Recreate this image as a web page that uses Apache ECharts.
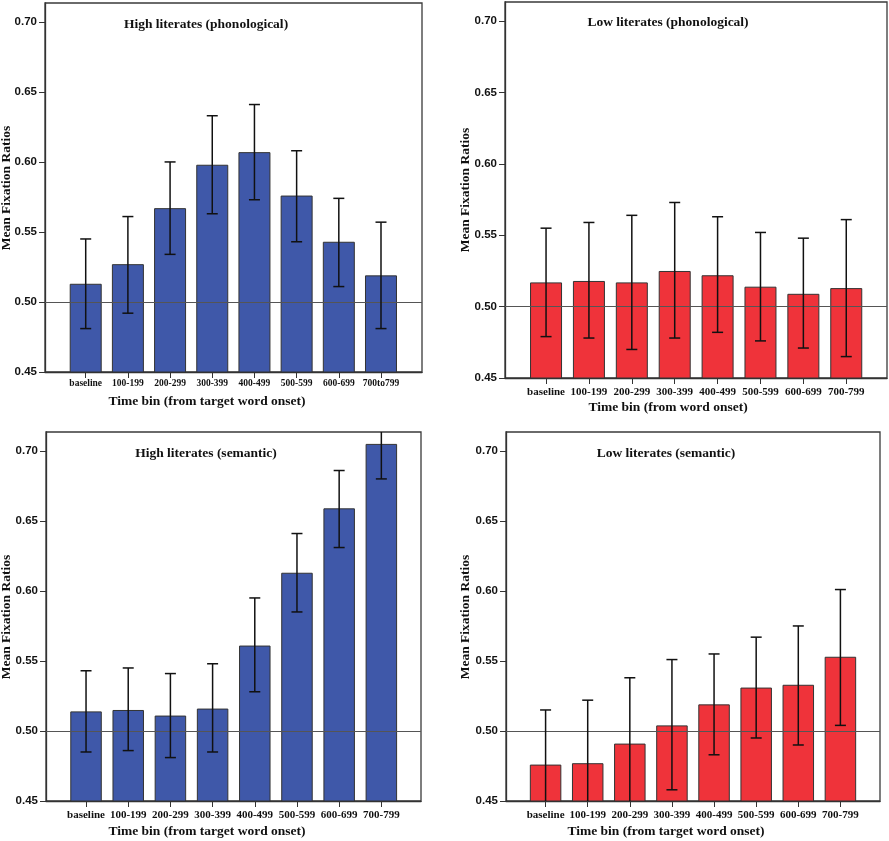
<!DOCTYPE html>
<html>
<head>
<meta charset="utf-8">
<script src="https://cdn.jsdelivr.net/npm/echarts@6/dist/echarts.min.js"></script>
<style>
html,body{margin:0;padding:0;background:#fff;}
#chart{width:889px;height:841px;}
</style>
</head>
<body>
<div id="chart"></div>
<script>
// ---------- data ----------
const catsHighPhon = ['baseline','100-199','200-299','300-399','400-499','500-599','600-699','700to799'];
const cats = ['baseline','100-199','200-299','300-399','400-499','500-599','600-699','700-799'];
const yTicks = [0.45, 0.50, 0.55, 0.60, 0.65, 0.70];

const hiPhonMean = [0.513,0.527,0.567,0.598,0.607,0.576,0.543,0.519];
const hiPhonLo   = [0.481,0.492,0.534,0.563,0.573,0.543,0.511,0.481];
const hiPhonHi   = [0.545,0.561,0.600,0.633,0.641,0.608,0.574,0.557];

const loPhonMean = [0.517,0.518,0.517,0.525,0.522,0.514,0.509,0.513];
const loPhonLo   = [0.479,0.478,0.470,0.478,0.482,0.476,0.471,0.465];
const loPhonHi   = [0.555,0.559,0.564,0.573,0.563,0.552,0.548,0.561];

const hiSemMean = [0.514,0.515,0.511,0.516,0.561,0.613,0.659,0.705];
const hiSemLo   = [0.485,0.486,0.481,0.485,0.528,0.585,0.631,0.680];
const hiSemHi   = [0.543,0.545,0.541,0.548,0.595,0.641,0.686,0.730];

const loSemMean = [0.476,0.477,0.491,0.504,0.519,0.531,0.533,0.553];
const loSemLo   = [0.438,0.433,0.445,0.458,0.483,0.495,0.490,0.504];
const loSemHi   = [0.515,0.522,0.538,0.551,0.555,0.567,0.575,0.601];

const chanceLevel = 0.5;

// ---------- layout ----------
const BLUE = '#3F58A9', RED = '#EF333A';
const SERIF = '"Liberation Serif","Times New Roman",serif';
const SANS = '"Liberation Sans",Arial,sans-serif';

const panels = [
  {grid:{left:45, top:3, width:377, height:369}, cats:catsHighPhon, mean:hiPhonMean, lo:hiPhonLo, hi:hiPhonHi, color:BLUE,
   xfs:9.5, xmargin:7, xmin:-0.965, xmax:7.972, barW:32,
   title:'High literates (phonological)', tx:206, ty:25,
   xname:'Time bin (from target word onset)', nx:207, ny:402, yx:7, yy:188},
  {grid:{left:505, top:2, width:382, height:376}, cats:cats, mean:loPhonMean, lo:loPhonLo, hi:loPhonHi, color:RED,
   xfs:11, xmargin:9, xmin:-0.957, xmax:7.95, barW:32,
   title:'Low literates (phonological)', tx:668, ty:23,
   xname:'Time bin (from word onset)', nx:668, ny:408, yx:466, yy:190},
  {grid:{left:46, top:432, width:375, height:369}, cats:cats, mean:hiSemMean, lo:hiSemLo, hi:hiSemHi, color:BLUE,
   xfs:11, xmargin:9, xmin:-0.949, xmax:7.94, barW:31.5,
   title:'High literates (semantic)', tx:206, ty:454,
   xname:'Time bin (from target word onset)', nx:207, ny:832, yx:7, yy:617},
  {grid:{left:506, top:432, width:374, height:369}, cats:cats, mean:loSemMean, lo:loSemLo, hi:loSemHi, color:RED,
   xfs:11, xmargin:9, xmin:-0.94, xmax:7.94, barW:31.5,
   title:'Low literates (semantic)', tx:666, ty:454,
   xname:'Time bin (from target word onset)', nx:666, ny:832, yx:466, yy:617}
];

const grids = [], xAxes = [], yAxes = [], series = [], graphics = [];
const idxs = [0,1,2,3,4,5,6,7];

panels.forEach((p, i) => {
  grids.push(Object.assign({show:true, borderColor:'#3a3a3a', borderWidth:1.3, backgroundColor:'#fff'}, p.grid));
  xAxes.push({
    type:'value', gridIndex:i, min:p.xmin, max:p.xmax,
    axisLine:{show:true, onZero:false, lineStyle:{color:'#333', width:1.3}},
    axisTick:{show:true, length:6, customValues:idxs, lineStyle:{color:'#333'}},
    axisLabel:{show:true, customValues:idxs, margin:p.xmargin,
      formatter:(v)=>p.cats[Math.round(v)], fontFamily:SERIF, fontWeight:'bold', fontSize:p.xfs, color:'#111'},
    splitLine:{show:false}
  });
  yAxes.push({
    type:'value', gridIndex:i, min:0.45, max:0.7135,
    axisLine:{show:true, onZero:false, lineStyle:{color:'#333', width:1.3}},
    axisTick:{show:true, length:6, customValues:yTicks, lineStyle:{color:'#333'}},
    axisLabel:{show:true, customValues:yTicks, margin:8,
      formatter:(v)=>v.toFixed(2), fontFamily:SANS, fontWeight:'bold', fontSize:11.5, color:'#111'},
    splitLine:{show:false}
  });
  series.push({
    type:'bar', xAxisIndex:i, yAxisIndex:i, barWidth:p.barW,
    data:p.mean.map((v,k)=>[k, v]),
    itemStyle:{color:p.color, borderColor:'#333', borderWidth:1},
    clip:true, silent:true,
    markLine:{silent:true, symbol:'none', label:{show:false},
      lineStyle:{color:'#555', width:1, type:'solid'},
      data:[{yAxis:chanceLevel}]},
    z:2
  });
  series.push({
    type:'custom', xAxisIndex:i, yAxisIndex:i, clip:true, silent:true, z:5,
    data:p.lo.map((v,k)=>[k, v, p.hi[k]]),
    encode:{x:0, y:[1,2]},
    renderItem:(params, api) => {
      const x = api.value(0);
      const lo = api.coord([x, api.value(1)]);
      const hi = api.coord([x, api.value(2)]);
      const hw = 5.5;
      const st = {stroke:'#111', lineWidth:1.5};
      return {type:'group', children:[
        {type:'line', shape:{x1:lo[0], y1:lo[1], x2:hi[0], y2:hi[1]}, style:st},
        {type:'line', shape:{x1:lo[0]-hw, y1:lo[1], x2:lo[0]+hw, y2:lo[1]}, style:st},
        {type:'line', shape:{x1:hi[0]-hw, y1:hi[1], x2:hi[0]+hw, y2:hi[1]}, style:st}
      ]};
    }
  });
  graphics.push({type:'text', x:p.tx, y:p.ty, z:10,
    style:{text:p.title, font:'bold 13.5px ' + SERIF, fill:'#111', textAlign:'center', textVerticalAlign:'middle'}});
  graphics.push({type:'text', x:p.nx, y:p.ny, z:10,
    style:{text:p.xname, font:'bold 13.5px ' + SERIF, fill:'#111', textAlign:'center', textVerticalAlign:'middle'}});
  graphics.push({type:'text', x:p.yx, y:p.yy, rotation:Math.PI/2, z:10,
    style:{text:'Mean Fixation Ratios', font:'bold 13.5px ' + SERIF, fill:'#111', textAlign:'center', textVerticalAlign:'middle'}});
});

const chart = echarts.init(document.getElementById('chart'), null, {renderer:'canvas'});
chart.setOption({
  animation:false,
  backgroundColor:'#fff',
  grid:grids, xAxis:xAxes, yAxis:yAxes, series:series, graphic:graphics
});
</script>
</body>
</html>
